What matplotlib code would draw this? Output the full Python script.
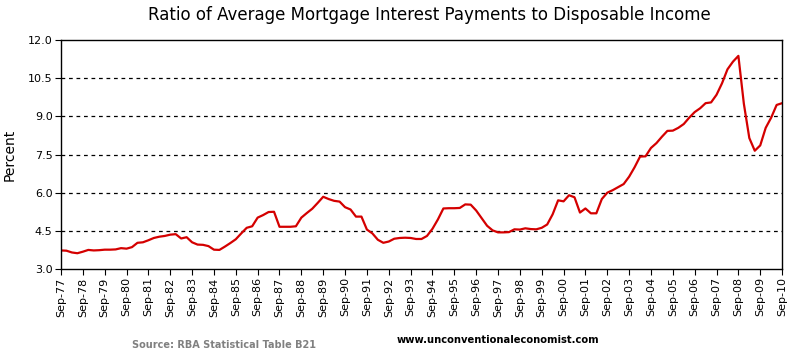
import numpy as np
import matplotlib.pyplot as plt

# quarterly ratio, Sep-77 .. Sep-10
ratio = [
  3.73, 3.72, 3.65, 3.62, 3.68, 3.75, 3.73, 3.74,
  3.76, 3.76, 3.77, 3.82, 3.80, 3.86, 4.03, 4.05,
  4.13, 4.22, 4.27, 4.30, 4.35, 4.37, 4.20, 4.25,
  4.05, 3.96, 3.95, 3.90, 3.76, 3.75, 3.88, 4.02,
  4.17, 4.40, 4.62, 4.68, 5.02, 5.12, 5.24, 5.25,
  4.66, 4.66, 4.66, 4.68, 5.02, 5.20, 5.37, 5.60,
  5.84, 5.75, 5.68, 5.65, 5.43, 5.34, 5.06, 5.06,
  4.55, 4.40, 4.15, 4.03, 4.08, 4.19, 4.22, 4.23,
  4.22, 4.18, 4.18, 4.30, 4.58, 4.95, 5.38, 5.39,
  5.39, 5.40, 5.54, 5.53, 5.30, 5.00, 4.70, 4.52,
  4.44, 4.44, 4.45, 4.56, 4.55, 4.60, 4.57, 4.56,
  4.62, 4.75, 5.15, 5.70, 5.66, 5.90, 5.82, 5.22,
  5.38, 5.19, 5.19, 5.75, 6.00, 6.10, 6.22, 6.34,
  6.63, 7.00, 7.42, 7.43, 7.76, 7.95, 8.20, 8.43,
  8.44, 8.55, 8.70, 8.95, 9.17, 9.32, 9.52, 9.55,
  9.85, 10.30, 10.85, 11.15, 11.38, 9.50, 8.15, 7.65,
  7.86, 8.55, 8.95, 9.45, 9.52,
]
years = list(range(77, 100)) + list(range(0, 11))
tick_labels = ['Sep-%02d' % y for y in years]
y_ticks = [3.0, 4.5, 6.0, 7.5, 9.0, 10.5, 12.0]

fig = plt.figure(figsize=(7.94, 3.58), dpi=100)
ax = fig.add_axes([0.0768, 0.2486, 0.9082, 0.6394])

q = np.arange(len(ratio))
ax.plot(q, ratio, color='#d40000', lw=1.6)

ax.set_xlim(0, len(ratio) - 1)
ax.set_ylim(3, 12)
ax.set_yticks(y_ticks)
ax.set_yticklabels(['%.1f' % v for v in y_ticks], fontsize=8)
ax.set_xticks(q[::4])
ax.set_xticklabels(tick_labels, rotation=90, fontsize=8)
ax.tick_params(length=4, width=0.8, color='black', pad=2)

for v in y_ticks[1:-1]:
  ax.axhline(v, color='black', lw=0.9, ls=(0, (3, 3)), zorder=0)

for s in ax.spines.values():
  s.set_linewidth(1.0)

ax.set_ylabel('Percent', fontsize=10, labelpad=8)
fig.text(0.541, 0.958, 'Ratio of Average Mortgage Interest Payments to Disposable Income',
         ha='center', va='center', fontsize=12)
fig.text(0.166, 0.036, 'Source: RBA Statistical Table B21', ha='left', va='center',
         fontsize=7, color='#808080', fontweight='bold')
fig.text(0.5, 0.05, 'www.unconventionaleconomist.com', ha='left', va='center',
         fontsize=7.2, color='black', fontweight='bold')

fig.savefig('out.png', dpi=100)
